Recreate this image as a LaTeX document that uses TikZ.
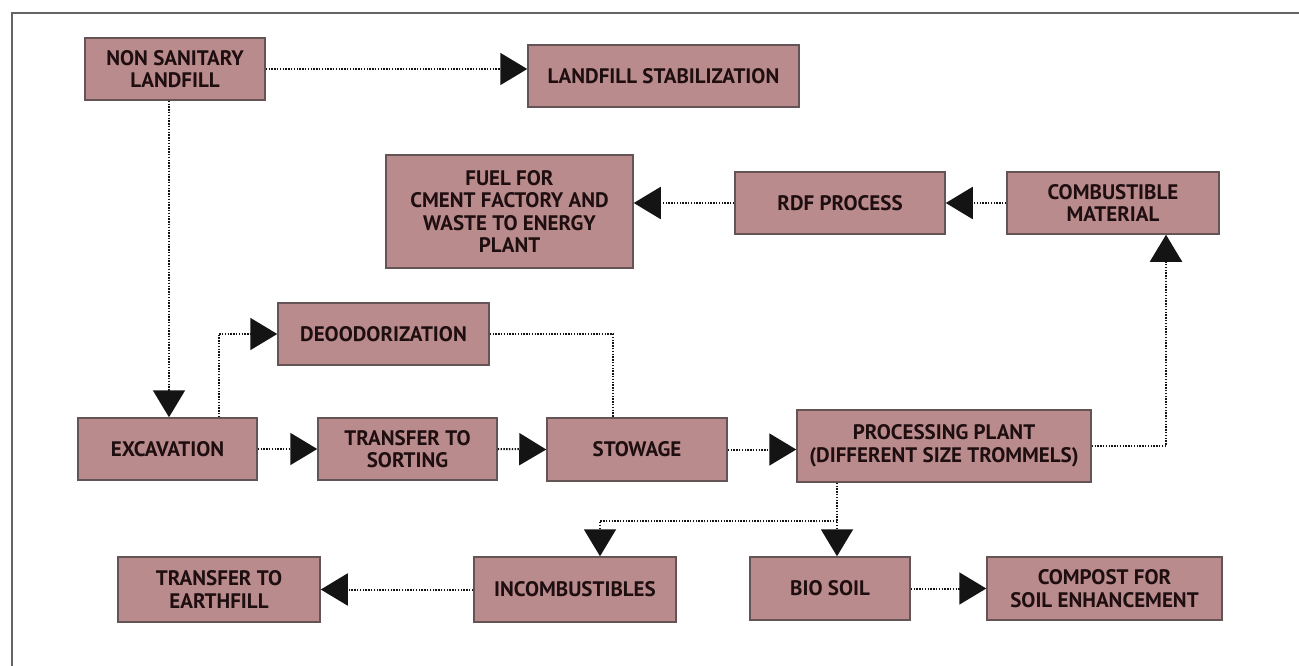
\documentclass[tikz,border=0pt]{standalone}
\usepackage{fontspec}
\setmainfont{PT Sans}
\usetikzlibrary{arrows.meta,calc}
\definecolor{boxfill}{RGB}{186,139,141}
\definecolor{boxline}{RGB}{100,84,86}
\definecolor{txtclr}{RGB}{30,14,16}
\definecolor{lineclr}{RGB}{20,20,20}
\definecolor{frameclr}{RGB}{100,100,100}
\begin{document}
\begin{tikzpicture}[x=1pt,y=-1pt,
  box/.style={draw=boxline, line width=1.5pt, fill=boxfill, inner sep=0pt, align=center,
    font=\fontsize{21}{22.5}\selectfont\bfseries, text=txtclr},
  link/.style={draw=lineclr, line width=2pt, dash pattern=on 1.4pt off 1.4pt},
  conn/.style={link, -{Triangle[length=27pt,width=32pt]}}]
\useasboundingbox (0,0) rectangle (1299,666);
\draw[frameclr, line width=1.3pt] (1299,13) -- (12,13) -- (12,666);
% nodes
\node[box, minimum width=180pt, minimum height=62pt] (ns) at (175,69) {NON SANITARY\\LANDFILL};
\node[box, minimum width=271pt, minimum height=62pt] (ls) at (663.5,76) {LANDFILL STABILIZATION};
\node[box, minimum width=247pt, minimum height=113pt] (fu) at (509.5,211.5) {FUEL FOR\\CMENT FACTORY AND\\WASTE TO ENERGY\\PLANT};
\node[box, minimum width=210pt, minimum height=62pt] (rdf) at (840,203) {RDF PROCESS};
\node[box, minimum width=212pt, minimum height=62pt] (cm) at (1113,203) {COMBUSTIBLE\\MATERIAL};
\node[box, minimum width=211pt, minimum height=62pt] (de) at (383.5,334) {DEOODORIZATION};
\node[box, minimum width=179pt, minimum height=62pt] (ex) at (167.5,449) {EXCAVATION};
\node[box, minimum width=179pt, minimum height=62pt] (tr) at (407.5,449) {TRANSFER TO\\SORTING};
\node[box, minimum width=180pt, minimum height=63pt] (st) at (637,449.5) {STOWAGE};
\node[box, minimum width=294pt, minimum height=72pt] (pp) at (944,446) {PROCESSING PLANT\\(DIFFERENT SIZE TROMMELS)};
\node[box, minimum width=202pt, minimum height=65pt] (inc) at (575,589.5) {INCOMBUSTIBLES};
\node[box, minimum width=160pt, minimum height=63pt] (bs) at (830,588.5) {BIO SOIL};
\node[box, minimum width=235pt, minimum height=63pt] (cp) at (1104.5,588.5) {COMPOST FOR\\SOIL ENHANCEMENT};
\node[box, minimum width=202pt, minimum height=65pt] (ef) at (219,589.5) {TRANSFER TO\\EARTHFILL};
% connectors
\draw[conn] (ns.east) -- (ns.east -| ls.west);
\draw[conn] ([xshift=-6pt]ns.south) -- ([xshift=-6pt]ns.south |- ex.north);
\draw[conn] ([xshift=51pt]ex.north) |- (de.west);
\draw[link] (de.east) -| ([xshift=-24pt]st.north);
\draw[conn] (ex.east) -- (tr.west);
\draw[conn] (tr.east) -- (st.west);
\draw[conn] (st.east) -- (st.east -| pp.west);
\draw[conn] (pp.east) -| ([xshift=53pt]cm.south);
\draw[conn] (cm.west) -- (rdf.east);
\draw[conn] (rdf.west) -- (rdf.west -| fu.east);
\coordinate (j) at (837,521);
\draw[conn] (j |- pp.south) -- (j |- bs.north);
\draw[conn] (j) -| ([xshift=25pt]inc.north);
\draw[conn] (inc.west) -- (ef.east);
\draw[conn] (bs.east) -- (bs.east -| cp.west);
\end{tikzpicture}
\end{document}
